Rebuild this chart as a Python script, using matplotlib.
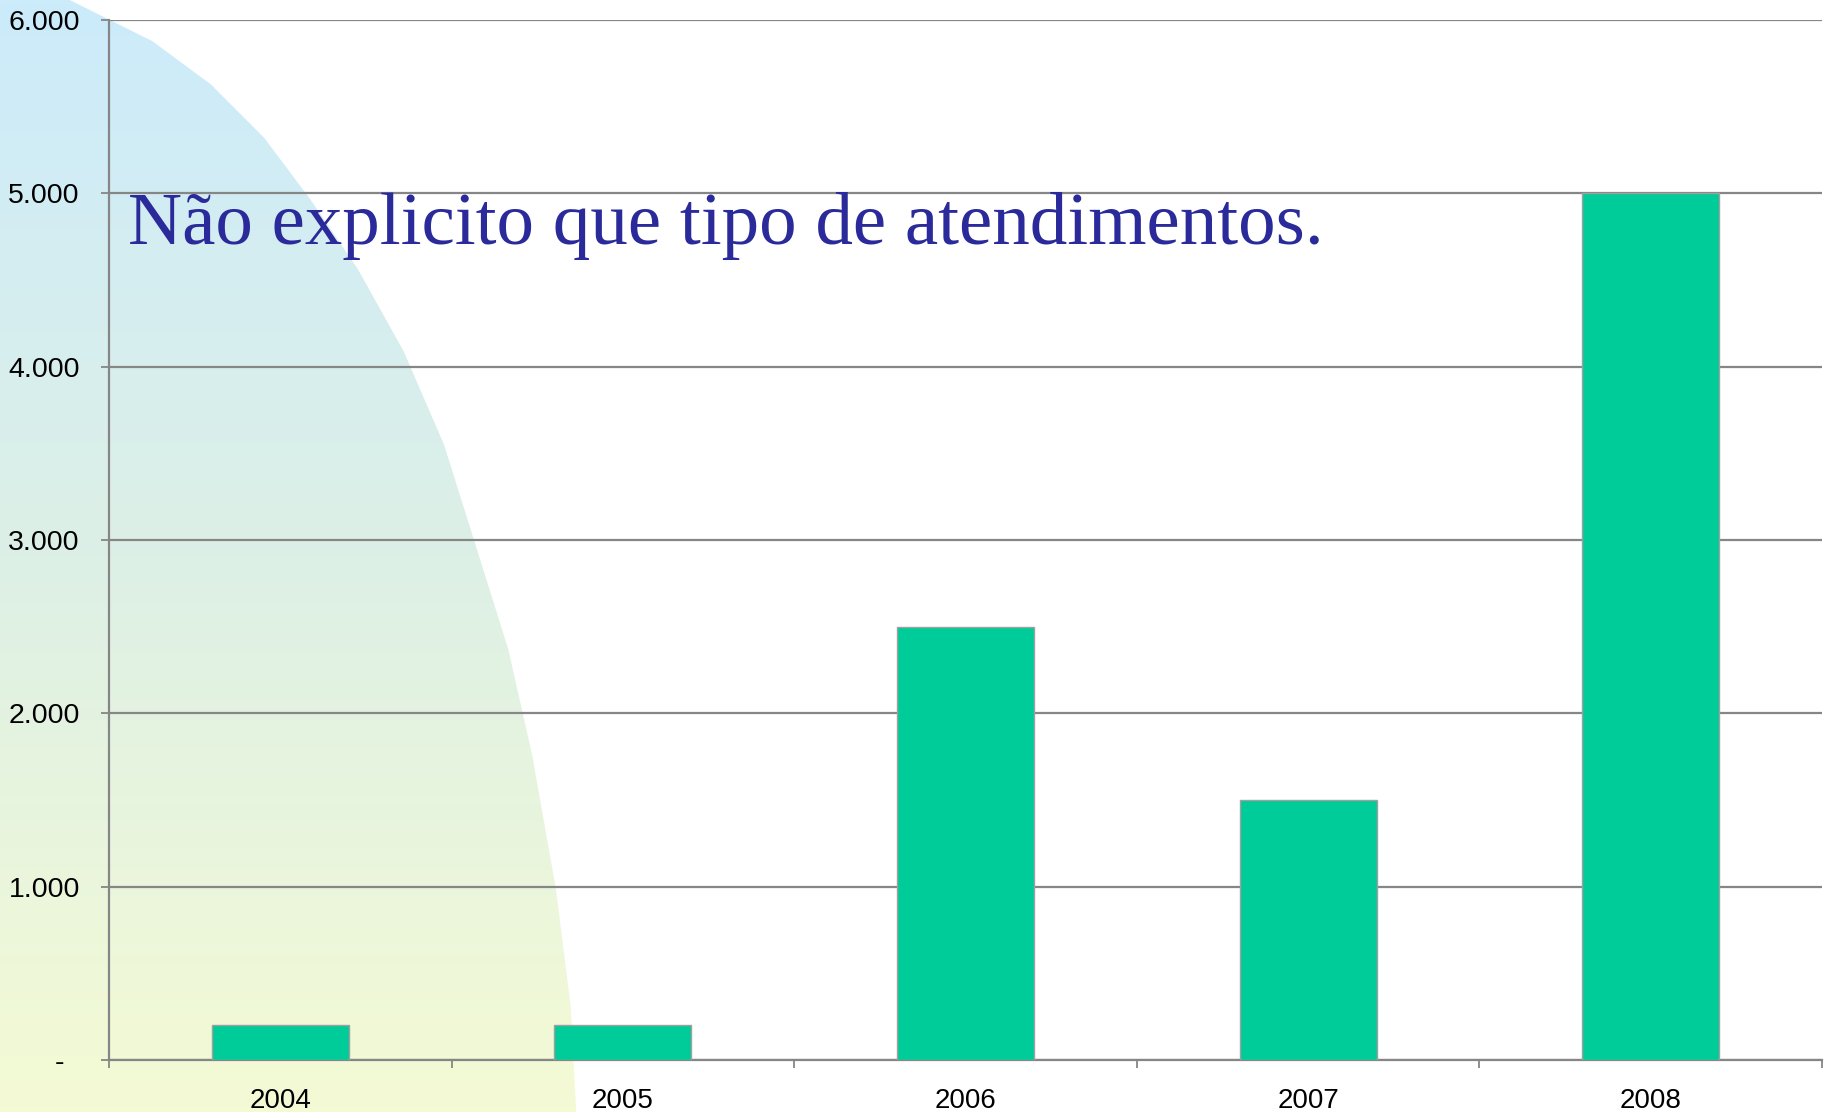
import numpy as np
import matplotlib.pyplot as plt
from matplotlib.patches import Polygon
from matplotlib.colors import LinearSegmentedColormap
from matplotlib.ticker import FixedLocator

# data
anos = ['2004', '2005', '2006', '2007', '2008']
atendimentos = [200, 200, 2500, 1500, 5000]
yticks = [0, 1000, 2000, 3000, 4000, 5000, 6000]
ytick_labels = ['-  ', '1.000', '2.000', '3.000', '4.000', '5.000', '6.000']
titulo = 'Não explicito que tipo de atendimentos.'

# outline of the decorative background shape (figure fractions, x right / y up)
shape_x = [0.0, 0.038, 0.083, 0.115, 0.144, 0.169, 0.195, 0.220, 0.242,
           0.258, 0.277, 0.290, 0.303, 0.311, 0.314, 0.0]
shape_y = [1.0, 1.0, 0.963, 0.924, 0.876, 0.821, 0.758, 0.684, 0.600,
           0.516, 0.416, 0.321, 0.200, 0.095, 0.0, 0.0]

W, H = 1835, 1112
fig = plt.figure(figsize=(W / 100, H / 100), dpi=100)

# background gradient clipped to the shape
bg = fig.add_axes([0, 0, 1, 1], zorder=0)
bg.set_xlim(0, 1)
bg.set_ylim(0, 1)
bg.axis('off')
cmap = LinearSegmentedColormap.from_list('bgfade', ['#F4FAD4', '#DDF0E6', '#CCEBFB'])
grad = np.linspace(0, 1, 256).reshape(-1, 1)
im = bg.imshow(grad, cmap=cmap, extent=[0, 1, 0, 1], origin='lower', aspect='auto')
poly = Polygon(np.column_stack([shape_x, shape_y]), closed=True,
               facecolor='none', edgecolor='none', transform=bg.transAxes)
bg.add_patch(poly)
im.set_clip_path(poly)

ax = fig.add_axes([109 / W, 1 - 1060 / H, (1822 - 109) / W, (1060 - 20) / H], zorder=1)
ax.patch.set_alpha(0)

x = np.arange(len(anos))
ax.bar(x, atendimentos, width=0.4, color='#00CC99', edgecolor='#A0A0A0',
       linewidth=1.0, zorder=3)

ax.set_xlim(-0.5, len(anos) - 0.5)
ax.set_ylim(0, 6000)

ax.set_yticks(yticks)
ax.set_yticklabels(ytick_labels, fontsize=20.5, family='Liberation Sans')
ax.yaxis.grid(True, color='#868686', linewidth=1.6, zorder=1)
ax.set_axisbelow(True)

ax.set_xticks(x)
ax.set_xticklabels(anos, fontsize=20, family='Liberation Sans')
ax.xaxis.set_minor_locator(FixedLocator(np.arange(-0.5, len(anos), 1.0)))
ax.tick_params(axis='x', which='major', length=0, pad=20)
ax.tick_params(axis='x', which='minor', length=6, width=1.3, color='#868686')
ax.tick_params(axis='y', length=6, width=1.3, color='#868686', pad=15)

for side in ['top', 'right']:
    ax.spines[side].set_visible(False)
for side in ['left', 'bottom']:
    ax.spines[side].set_color('#868686')
    ax.spines[side].set_linewidth(1.6)

fig.text(128 / W, 1 - 244 / H, titulo, fontsize=54, family='Liberation Serif',
         color='#2A2A9A', va='baseline', ha='left', zorder=5)

fig.savefig('out.png', dpi=100)
